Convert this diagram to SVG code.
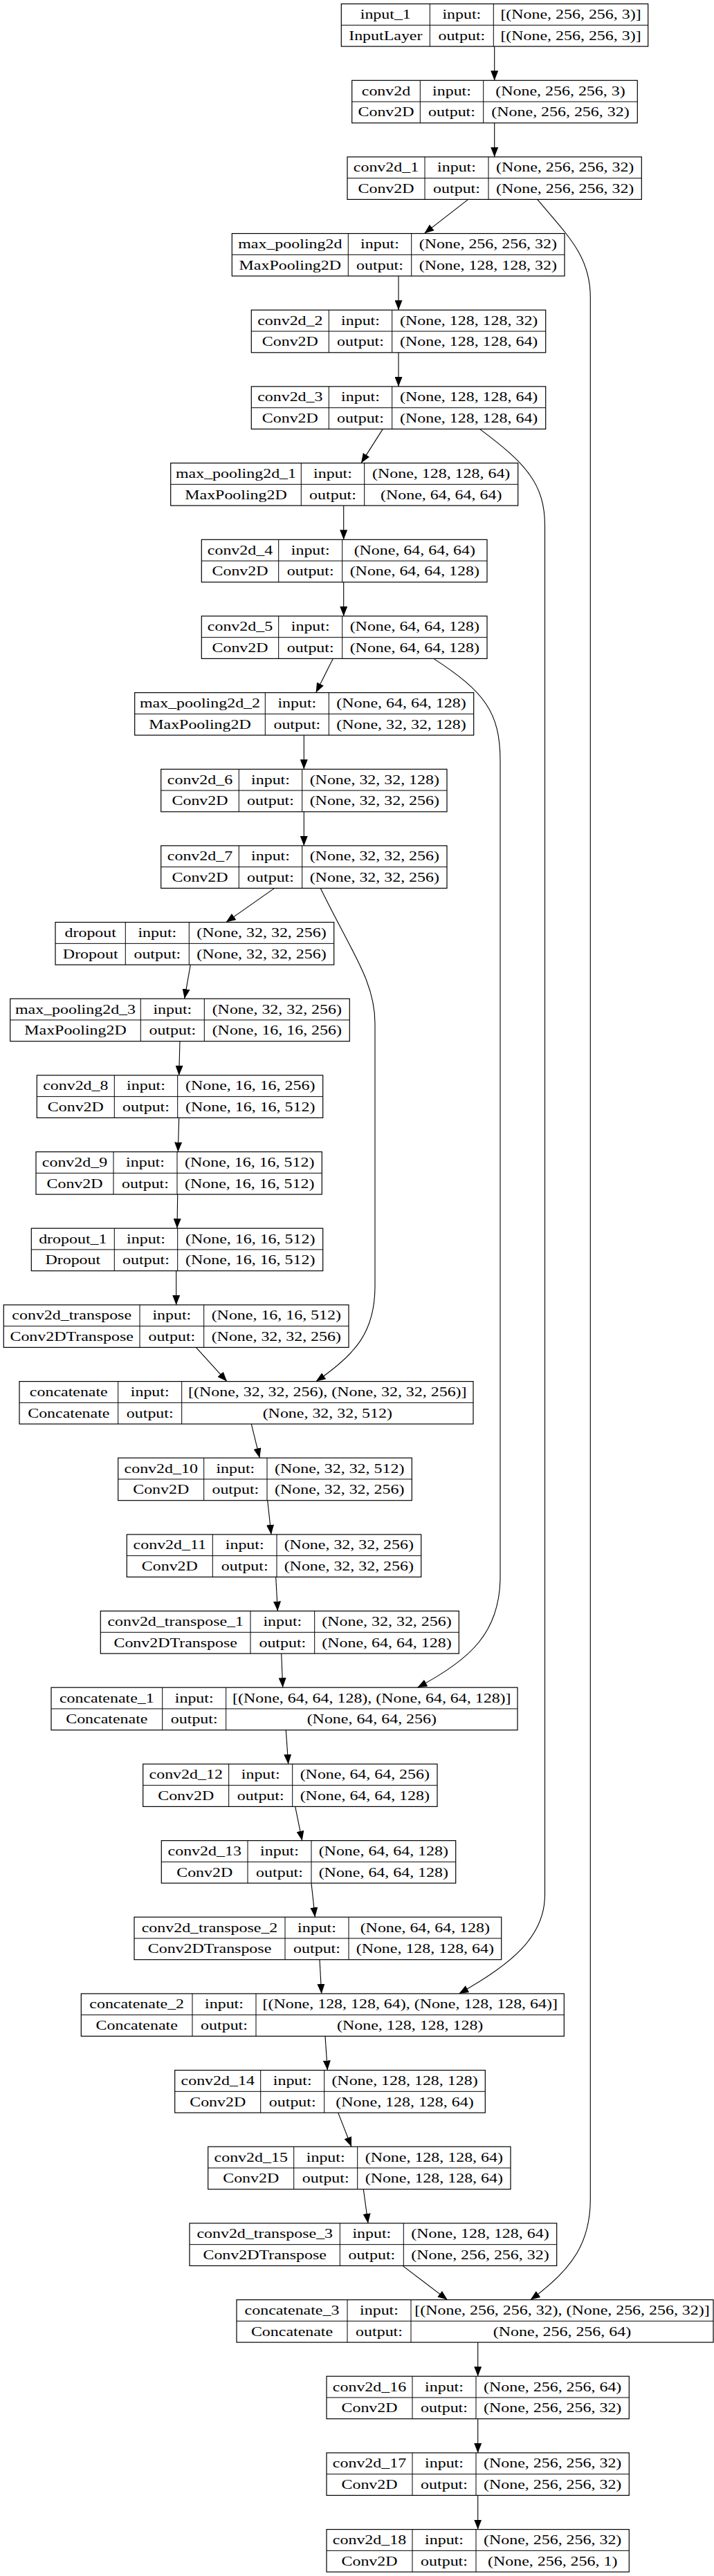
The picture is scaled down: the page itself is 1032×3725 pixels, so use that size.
<svg xmlns="http://www.w3.org/2000/svg" width="1032" height="3725" viewBox="0 0 1032 3725">
<style>
.bg{fill:#fff}
.box{fill:#fff;stroke:#000;stroke-width:1.2}
.grid{fill:none;stroke:#000;stroke-width:1}
.t{font-family:"Liberation Serif","Times New Roman",serif;font-size:18px;text-anchor:middle;fill:#000}
.e{fill:none;stroke:#000;stroke-width:1.1;marker-end:url(#ah)}
</style>
<defs>
<marker id="ah" markerUnits="userSpaceOnUse" markerWidth="14" markerHeight="11" refX="14" refY="5.5" orient="auto"><path d="M0,0 L14,5.5 L0,11 z" fill="#000"/></marker>
</defs>
<rect class="bg" x="0" y="0" width="1032" height="3725"/>

<g id="edges">
<path class="e" d="M714.7,67.1 L714.7,116.3"/>
<path class="e" d="M714.7,177.8 L714.7,226.9"/>
<path class="e" d="M676.7,288.4 L613.3,337.6"/>
<path class="e" d="M776.7,288.4 C820,340 853.3,370 853.3,430 L853.3,3180 C853.3,3240 830,3280 766.7,3325.6"/>
<path class="e" d="M576,399.1 L576,448.3"/>
<path class="e" d="M576,509.8 L576,558.9"/>
<path class="e" d="M553.3,620.4 L522,669.6"/>
<path class="e" d="M693.3,620.4 C760,670 787.5,700 787.5,760 L787.5,2740 C787.5,2800 740,2840 663.3,2882.9"/>
<path class="e" d="M496.7,731.1 L496.7,780.3"/>
<path class="e" d="M496.7,841.8 L496.7,890.9"/>
<path class="e" d="M481.3,952.4 L456.7,1001.6"/>
<path class="e" d="M626.7,952.4 C700,1000 723,1030 723,1100 L723,2280 C723,2360 680,2400 603.3,2440.2"/>
<path class="e" d="M439.3,1063.1 L439.3,1112.3"/>
<path class="e" d="M439.3,1173.8 L439.3,1222.9"/>
<path class="e" d="M396.7,1284.4 L326.7,1333.6"/>
<path class="e" d="M463.3,1284.4 C510,1380 542,1420 542,1480 L542,1860 C542,1925 515,1958 456.7,1997.6"/>
<path class="e" d="M275.3,1395.1 L266.7,1444.2"/>
<path class="e" d="M260,1505.7 L258.7,1554.9"/>
<path class="e" d="M258.7,1616.4 L257.3,1665.6"/>
<path class="e" d="M256.7,1727.1 L256,1776.2"/>
<path class="e" d="M254.7,1837.7 L254.7,1886.9"/>
<path class="e" d="M283.3,1948.4 L328,1997.6"/>
<path class="e" d="M363.3,2059.1 L375.3,2108.2"/>
<path class="e" d="M386.7,2169.7 L392,2218.9"/>
<path class="e" d="M398.7,2280.4 L401.3,2329.6"/>
<path class="e" d="M406.7,2391.1 L408.7,2440.2"/>
<path class="e" d="M413.3,2501.7 L416.7,2550.9"/>
<path class="e" d="M426.7,2612.4 L436.7,2661.6"/>
<path class="e" d="M450,2723.1 L455.3,2772.2"/>
<path class="e" d="M462,2833.7 L464.7,2882.9"/>
<path class="e" d="M470,2944.4 L473.3,2993.6"/>
<path class="e" d="M488.7,3055.1 L508,3104.2"/>
<path class="e" d="M525.3,3165.7 L532,3214.9"/>
<path class="e" d="M582,3276.4 L646.7,3325.6"/>
<path class="e" d="M690.7,3387.1 L690.7,3436.2"/>
<path class="e" d="M690.7,3497.7 L690.7,3546.9"/>
<path class="e" d="M690.7,3608.4 L690.7,3657.6"/>
</g>

<g id="input_1">
<rect class="box" x="493.3" y="5.6" width="443.4" height="61.5"/>
<path class="grid" d="M493.3,36.35 H936.7 M621.3,5.6 V67.1 M713.3,5.6 V67.1"/>
<text class="t" transform="translate(557.3,27) scale(1.33,1)">input_1</text>
<text class="t" transform="translate(667.3,27) scale(1.33,1)">input:</text>
<text class="t" transform="translate(825,27) scale(1.33,1)">[(None, 256, 256, 3)]</text>
<text class="t" transform="translate(557.3,57.7) scale(1.33,1)">InputLayer</text>
<text class="t" transform="translate(667.3,57.7) scale(1.33,1)">output:</text>
<text class="t" transform="translate(825,57.7) scale(1.33,1)">[(None, 256, 256, 3)]</text>
</g>

<g id="conv2d">
<rect class="box" x="508.7" y="116.3" width="412.6" height="61.5"/>
<path class="grid" d="M508.7,147.05 H921.3 M607.3,116.3 V177.8 M698.7,116.3 V177.8"/>
<text class="t" transform="translate(558,137.7) scale(1.33,1)">conv2d</text>
<text class="t" transform="translate(653,137.7) scale(1.33,1)">input:</text>
<text class="t" transform="translate(810,137.7) scale(1.33,1)">(None, 256, 256, 3)</text>
<text class="t" transform="translate(558,168.4) scale(1.33,1)">Conv2D</text>
<text class="t" transform="translate(653,168.4) scale(1.33,1)">output:</text>
<text class="t" transform="translate(810,168.4) scale(1.33,1)">(None, 256, 256, 32)</text>
</g>

<g id="conv2d_1">
<rect class="box" x="502" y="226.9" width="425.3" height="61.5"/>
<path class="grid" d="M502,257.65 H927.3 M614,226.9 V288.4 M706,226.9 V288.4"/>
<text class="t" transform="translate(558,248.3) scale(1.33,1)">conv2d_1</text>
<text class="t" transform="translate(660,248.3) scale(1.33,1)">input:</text>
<text class="t" transform="translate(816.7,248.3) scale(1.33,1)">(None, 256, 256, 32)</text>
<text class="t" transform="translate(558,279) scale(1.33,1)">Conv2D</text>
<text class="t" transform="translate(660,279) scale(1.33,1)">output:</text>
<text class="t" transform="translate(816.7,279) scale(1.33,1)">(None, 256, 256, 32)</text>
</g>

<g id="max_pooling2d">
<rect class="box" x="335.3" y="337.6" width="480.7" height="61.5"/>
<path class="grid" d="M335.3,368.35 H816 M503.3,337.6 V399.1 M594.7,337.6 V399.1"/>
<text class="t" transform="translate(419.3,359) scale(1.33,1)">max_pooling2d</text>
<text class="t" transform="translate(549,359) scale(1.33,1)">input:</text>
<text class="t" transform="translate(705.3,359) scale(1.33,1)">(None, 256, 256, 32)</text>
<text class="t" transform="translate(419.3,389.7) scale(1.33,1)">MaxPooling2D</text>
<text class="t" transform="translate(549,389.7) scale(1.33,1)">output:</text>
<text class="t" transform="translate(705.3,389.7) scale(1.33,1)">(None, 128, 128, 32)</text>
</g>

<g id="conv2d_2">
<rect class="box" x="363.3" y="448.3" width="425.4" height="61.5"/>
<path class="grid" d="M363.3,479.05 H788.7 M475.3,448.3 V509.8 M566.7,448.3 V509.8"/>
<text class="t" transform="translate(419.3,469.7) scale(1.33,1)">conv2d_2</text>
<text class="t" transform="translate(521,469.7) scale(1.33,1)">input:</text>
<text class="t" transform="translate(677.7,469.7) scale(1.33,1)">(None, 128, 128, 32)</text>
<text class="t" transform="translate(419.3,500.4) scale(1.33,1)">Conv2D</text>
<text class="t" transform="translate(521,500.4) scale(1.33,1)">output:</text>
<text class="t" transform="translate(677.7,500.4) scale(1.33,1)">(None, 128, 128, 64)</text>
</g>

<g id="conv2d_3">
<rect class="box" x="363.3" y="558.9" width="425.4" height="61.5"/>
<path class="grid" d="M363.3,589.65 H788.7 M475.3,558.9 V620.4 M566.7,558.9 V620.4"/>
<text class="t" transform="translate(419.3,580.3) scale(1.33,1)">conv2d_3</text>
<text class="t" transform="translate(521,580.3) scale(1.33,1)">input:</text>
<text class="t" transform="translate(677.7,580.3) scale(1.33,1)">(None, 128, 128, 64)</text>
<text class="t" transform="translate(419.3,611) scale(1.33,1)">Conv2D</text>
<text class="t" transform="translate(521,611) scale(1.33,1)">output:</text>
<text class="t" transform="translate(677.7,611) scale(1.33,1)">(None, 128, 128, 64)</text>
</g>

<g id="max_pooling2d_1">
<rect class="box" x="246.7" y="669.6" width="502" height="61.5"/>
<path class="grid" d="M246.7,700.35 H748.7 M435.3,669.6 V731.1 M526.7,669.6 V731.1"/>
<text class="t" transform="translate(341,691) scale(1.33,1)">max_pooling2d_1</text>
<text class="t" transform="translate(481,691) scale(1.33,1)">input:</text>
<text class="t" transform="translate(637.7,691) scale(1.33,1)">(None, 128, 128, 64)</text>
<text class="t" transform="translate(341,721.7) scale(1.33,1)">MaxPooling2D</text>
<text class="t" transform="translate(481,721.7) scale(1.33,1)">output:</text>
<text class="t" transform="translate(637.7,721.7) scale(1.33,1)">(None, 64, 64, 64)</text>
</g>

<g id="conv2d_4">
<rect class="box" x="291.3" y="780.3" width="412.7" height="61.5"/>
<path class="grid" d="M291.3,811.05 H704 M402.7,780.3 V841.8 M494.7,780.3 V841.8"/>
<text class="t" transform="translate(347,801.7) scale(1.33,1)">conv2d_4</text>
<text class="t" transform="translate(448.7,801.7) scale(1.33,1)">input:</text>
<text class="t" transform="translate(599.3,801.7) scale(1.33,1)">(None, 64, 64, 64)</text>
<text class="t" transform="translate(347,832.4) scale(1.33,1)">Conv2D</text>
<text class="t" transform="translate(448.7,832.4) scale(1.33,1)">output:</text>
<text class="t" transform="translate(599.3,832.4) scale(1.33,1)">(None, 64, 64, 128)</text>
</g>

<g id="conv2d_5">
<rect class="box" x="291.3" y="890.9" width="412.7" height="61.5"/>
<path class="grid" d="M291.3,921.65 H704 M402.7,890.9 V952.4 M494.7,890.9 V952.4"/>
<text class="t" transform="translate(347,912.3) scale(1.33,1)">conv2d_5</text>
<text class="t" transform="translate(448.7,912.3) scale(1.33,1)">input:</text>
<text class="t" transform="translate(599.3,912.3) scale(1.33,1)">(None, 64, 64, 128)</text>
<text class="t" transform="translate(347,943) scale(1.33,1)">Conv2D</text>
<text class="t" transform="translate(448.7,943) scale(1.33,1)">output:</text>
<text class="t" transform="translate(599.3,943) scale(1.33,1)">(None, 64, 64, 128)</text>
</g>

<g id="max_pooling2d_2">
<rect class="box" x="194.7" y="1001.6" width="490" height="61.5"/>
<path class="grid" d="M194.7,1032.35 H684.7 M383.3,1001.6 V1063.1 M475.3,1001.6 V1063.1"/>
<text class="t" transform="translate(289,1023) scale(1.33,1)">max_pooling2d_2</text>
<text class="t" transform="translate(429.3,1023) scale(1.33,1)">input:</text>
<text class="t" transform="translate(580,1023) scale(1.33,1)">(None, 64, 64, 128)</text>
<text class="t" transform="translate(289,1053.7) scale(1.33,1)">MaxPooling2D</text>
<text class="t" transform="translate(429.3,1053.7) scale(1.33,1)">output:</text>
<text class="t" transform="translate(580,1053.7) scale(1.33,1)">(None, 32, 32, 128)</text>
</g>

<g id="conv2d_6">
<rect class="box" x="232.7" y="1112.3" width="413.3" height="61.5"/>
<path class="grid" d="M232.7,1143.05 H646 M345.3,1112.3 V1173.8 M436.7,1112.3 V1173.8"/>
<text class="t" transform="translate(289,1133.7) scale(1.33,1)">conv2d_6</text>
<text class="t" transform="translate(391,1133.7) scale(1.33,1)">input:</text>
<text class="t" transform="translate(541.3,1133.7) scale(1.33,1)">(None, 32, 32, 128)</text>
<text class="t" transform="translate(289,1164.4) scale(1.33,1)">Conv2D</text>
<text class="t" transform="translate(391,1164.4) scale(1.33,1)">output:</text>
<text class="t" transform="translate(541.3,1164.4) scale(1.33,1)">(None, 32, 32, 256)</text>
</g>

<g id="conv2d_7">
<rect class="box" x="232.7" y="1222.9" width="413.3" height="61.5"/>
<path class="grid" d="M232.7,1253.65 H646 M345.3,1222.9 V1284.4 M436.7,1222.9 V1284.4"/>
<text class="t" transform="translate(289,1244.3) scale(1.33,1)">conv2d_7</text>
<text class="t" transform="translate(391,1244.3) scale(1.33,1)">input:</text>
<text class="t" transform="translate(541.3,1244.3) scale(1.33,1)">(None, 32, 32, 256)</text>
<text class="t" transform="translate(289,1275) scale(1.33,1)">Conv2D</text>
<text class="t" transform="translate(391,1275) scale(1.33,1)">output:</text>
<text class="t" transform="translate(541.3,1275) scale(1.33,1)">(None, 32, 32, 256)</text>
</g>

<g id="dropout">
<rect class="box" x="80" y="1333.6" width="402.7" height="61.5"/>
<path class="grid" d="M80,1364.35 H482.7 M181.3,1333.6 V1395.1 M273.3,1333.6 V1395.1"/>
<text class="t" transform="translate(130.7,1355) scale(1.33,1)">dropout</text>
<text class="t" transform="translate(227.3,1355) scale(1.33,1)">input:</text>
<text class="t" transform="translate(378,1355) scale(1.33,1)">(None, 32, 32, 256)</text>
<text class="t" transform="translate(130.7,1385.7) scale(1.33,1)">Dropout</text>
<text class="t" transform="translate(227.3,1385.7) scale(1.33,1)">output:</text>
<text class="t" transform="translate(378,1385.7) scale(1.33,1)">(None, 32, 32, 256)</text>
</g>

<g id="max_pooling2d_3">
<rect class="box" x="14.7" y="1444.2" width="490.6" height="61.5"/>
<path class="grid" d="M14.7,1474.95 H505.3 M203.3,1444.2 V1505.7 M295.3,1444.2 V1505.7"/>
<text class="t" transform="translate(109,1465.6) scale(1.33,1)">max_pooling2d_3</text>
<text class="t" transform="translate(249.3,1465.6) scale(1.33,1)">input:</text>
<text class="t" transform="translate(400.3,1465.6) scale(1.33,1)">(None, 32, 32, 256)</text>
<text class="t" transform="translate(109,1496.3) scale(1.33,1)">MaxPooling2D</text>
<text class="t" transform="translate(249.3,1496.3) scale(1.33,1)">output:</text>
<text class="t" transform="translate(400.3,1496.3) scale(1.33,1)">(None, 16, 16, 256)</text>
</g>

<g id="conv2d_8">
<rect class="box" x="53.3" y="1554.9" width="413.4" height="61.5"/>
<path class="grid" d="M53.3,1585.65 H466.7 M165.3,1554.9 V1616.4 M256.7,1554.9 V1616.4"/>
<text class="t" transform="translate(109.3,1576.3) scale(1.33,1)">conv2d_8</text>
<text class="t" transform="translate(211,1576.3) scale(1.33,1)">input:</text>
<text class="t" transform="translate(361.7,1576.3) scale(1.33,1)">(None, 16, 16, 256)</text>
<text class="t" transform="translate(109.3,1607) scale(1.33,1)">Conv2D</text>
<text class="t" transform="translate(211,1607) scale(1.33,1)">output:</text>
<text class="t" transform="translate(361.7,1607) scale(1.33,1)">(None, 16, 16, 512)</text>
</g>

<g id="conv2d_9">
<rect class="box" x="52" y="1665.6" width="413.3" height="61.5"/>
<path class="grid" d="M52,1696.35 H465.3 M164,1665.6 V1727.1 M256,1665.6 V1727.1"/>
<text class="t" transform="translate(108,1687) scale(1.33,1)">conv2d_9</text>
<text class="t" transform="translate(210,1687) scale(1.33,1)">input:</text>
<text class="t" transform="translate(360.7,1687) scale(1.33,1)">(None, 16, 16, 512)</text>
<text class="t" transform="translate(108,1717.7) scale(1.33,1)">Conv2D</text>
<text class="t" transform="translate(210,1717.7) scale(1.33,1)">output:</text>
<text class="t" transform="translate(360.7,1717.7) scale(1.33,1)">(None, 16, 16, 512)</text>
</g>

<g id="dropout_1">
<rect class="box" x="45.3" y="1776.2" width="421.4" height="61.5"/>
<path class="grid" d="M45.3,1806.95 H466.7 M165.3,1776.2 V1837.7 M256.7,1776.2 V1837.7"/>
<text class="t" transform="translate(105.3,1797.6) scale(1.33,1)">dropout_1</text>
<text class="t" transform="translate(211,1797.6) scale(1.33,1)">input:</text>
<text class="t" transform="translate(361.7,1797.6) scale(1.33,1)">(None, 16, 16, 512)</text>
<text class="t" transform="translate(105.3,1828.3) scale(1.33,1)">Dropout</text>
<text class="t" transform="translate(211,1828.3) scale(1.33,1)">output:</text>
<text class="t" transform="translate(361.7,1828.3) scale(1.33,1)">(None, 16, 16, 512)</text>
</g>

<g id="conv2d_transpose">
<rect class="box" x="5.3" y="1886.9" width="498.7" height="61.5"/>
<path class="grid" d="M5.3,1917.65 H504 M202,1886.9 V1948.4 M294.7,1886.9 V1948.4"/>
<text class="t" transform="translate(103.7,1908.3) scale(1.33,1)">conv2d_transpose</text>
<text class="t" transform="translate(248.3,1908.3) scale(1.33,1)">input:</text>
<text class="t" transform="translate(399.3,1908.3) scale(1.33,1)">(None, 16, 16, 512)</text>
<text class="t" transform="translate(103.7,1939) scale(1.33,1)">Conv2DTranspose</text>
<text class="t" transform="translate(248.3,1939) scale(1.33,1)">output:</text>
<text class="t" transform="translate(399.3,1939) scale(1.33,1)">(None, 32, 32, 256)</text>
</g>

<g id="concatenate">
<rect class="box" x="28" y="1997.6" width="656" height="61.5"/>
<path class="grid" d="M28,2028.35 H684 M170.7,1997.6 V2059.1 M262.7,1997.6 V2059.1"/>
<text class="t" transform="translate(99.3,2019) scale(1.33,1)">concatenate</text>
<text class="t" transform="translate(216.7,2019) scale(1.33,1)">input:</text>
<text class="t" transform="translate(473.3,2019) scale(1.33,1)">[(None, 32, 32, 256), (None, 32, 32, 256)]</text>
<text class="t" transform="translate(99.3,2049.7) scale(1.33,1)">Concatenate</text>
<text class="t" transform="translate(216.7,2049.7) scale(1.33,1)">output:</text>
<text class="t" transform="translate(473.3,2049.7) scale(1.33,1)">(None, 32, 32, 512)</text>
</g>

<g id="conv2d_10">
<rect class="box" x="170.7" y="2108.2" width="424.6" height="61.5"/>
<path class="grid" d="M170.7,2138.95 H595.3 M294.7,2108.2 V2169.7 M386,2108.2 V2169.7"/>
<text class="t" transform="translate(232.7,2129.6) scale(1.33,1)">conv2d_10</text>
<text class="t" transform="translate(340.3,2129.6) scale(1.33,1)">input:</text>
<text class="t" transform="translate(490.7,2129.6) scale(1.33,1)">(None, 32, 32, 512)</text>
<text class="t" transform="translate(232.7,2160.3) scale(1.33,1)">Conv2D</text>
<text class="t" transform="translate(340.3,2160.3) scale(1.33,1)">output:</text>
<text class="t" transform="translate(490.7,2160.3) scale(1.33,1)">(None, 32, 32, 256)</text>
</g>

<g id="conv2d_11">
<rect class="box" x="183.3" y="2218.9" width="425.4" height="61.5"/>
<path class="grid" d="M183.3,2249.65 H608.7 M307.3,2218.9 V2280.4 M400,2218.9 V2280.4"/>
<text class="t" transform="translate(245.3,2240.3) scale(1.33,1)">conv2d_11</text>
<text class="t" transform="translate(353.7,2240.3) scale(1.33,1)">input:</text>
<text class="t" transform="translate(504.3,2240.3) scale(1.33,1)">(None, 32, 32, 256)</text>
<text class="t" transform="translate(245.3,2271) scale(1.33,1)">Conv2D</text>
<text class="t" transform="translate(353.7,2271) scale(1.33,1)">output:</text>
<text class="t" transform="translate(504.3,2271) scale(1.33,1)">(None, 32, 32, 256)</text>
</g>

<g id="conv2d_transpose_1">
<rect class="box" x="145.3" y="2329.6" width="518" height="61.5"/>
<path class="grid" d="M145.3,2360.35 H663.3 M362,2329.6 V2391.1 M454.7,2329.6 V2391.1"/>
<text class="t" transform="translate(253.7,2351) scale(1.33,1)">conv2d_transpose_1</text>
<text class="t" transform="translate(408.3,2351) scale(1.33,1)">input:</text>
<text class="t" transform="translate(559,2351) scale(1.33,1)">(None, 32, 32, 256)</text>
<text class="t" transform="translate(253.7,2381.7) scale(1.33,1)">Conv2DTranspose</text>
<text class="t" transform="translate(408.3,2381.7) scale(1.33,1)">output:</text>
<text class="t" transform="translate(559,2381.7) scale(1.33,1)">(None, 64, 64, 128)</text>
</g>

<g id="concatenate_1">
<rect class="box" x="74" y="2440.2" width="674" height="61.5"/>
<path class="grid" d="M74,2470.95 H748 M234.7,2440.2 V2501.7 M326.7,2440.2 V2501.7"/>
<text class="t" transform="translate(154.3,2461.6) scale(1.33,1)">concatenate_1</text>
<text class="t" transform="translate(280.7,2461.6) scale(1.33,1)">input:</text>
<text class="t" transform="translate(537.3,2461.6) scale(1.33,1)">[(None, 64, 64, 128), (None, 64, 64, 128)]</text>
<text class="t" transform="translate(154.3,2492.3) scale(1.33,1)">Concatenate</text>
<text class="t" transform="translate(280.7,2492.3) scale(1.33,1)">output:</text>
<text class="t" transform="translate(537.3,2492.3) scale(1.33,1)">(None, 64, 64, 256)</text>
</g>

<g id="conv2d_12">
<rect class="box" x="206.7" y="2550.9" width="425.3" height="61.5"/>
<path class="grid" d="M206.7,2581.65 H632 M330.7,2550.9 V2612.4 M422.7,2550.9 V2612.4"/>
<text class="t" transform="translate(268.7,2572.3) scale(1.33,1)">conv2d_12</text>
<text class="t" transform="translate(376.7,2572.3) scale(1.33,1)">input:</text>
<text class="t" transform="translate(527.3,2572.3) scale(1.33,1)">(None, 64, 64, 256)</text>
<text class="t" transform="translate(268.7,2603) scale(1.33,1)">Conv2D</text>
<text class="t" transform="translate(376.7,2603) scale(1.33,1)">output:</text>
<text class="t" transform="translate(527.3,2603) scale(1.33,1)">(None, 64, 64, 128)</text>
</g>

<g id="conv2d_13">
<rect class="box" x="233.3" y="2661.6" width="425.4" height="61.5"/>
<path class="grid" d="M233.3,2692.35 H658.7 M358,2661.6 V2723.1 M450,2661.6 V2723.1"/>
<text class="t" transform="translate(295.7,2683) scale(1.33,1)">conv2d_13</text>
<text class="t" transform="translate(404,2683) scale(1.33,1)">input:</text>
<text class="t" transform="translate(554.3,2683) scale(1.33,1)">(None, 64, 64, 128)</text>
<text class="t" transform="translate(295.7,2713.7) scale(1.33,1)">Conv2D</text>
<text class="t" transform="translate(404,2713.7) scale(1.33,1)">output:</text>
<text class="t" transform="translate(554.3,2713.7) scale(1.33,1)">(None, 64, 64, 128)</text>
</g>

<g id="conv2d_transpose_2">
<rect class="box" x="194" y="2772.2" width="530.7" height="61.5"/>
<path class="grid" d="M194,2802.95 H724.7 M412,2772.2 V2833.7 M504,2772.2 V2833.7"/>
<text class="t" transform="translate(303,2793.6) scale(1.33,1)">conv2d_transpose_2</text>
<text class="t" transform="translate(458,2793.6) scale(1.33,1)">input:</text>
<text class="t" transform="translate(614.3,2793.6) scale(1.33,1)">(None, 64, 64, 128)</text>
<text class="t" transform="translate(303,2824.3) scale(1.33,1)">Conv2DTranspose</text>
<text class="t" transform="translate(458,2824.3) scale(1.33,1)">output:</text>
<text class="t" transform="translate(614.3,2824.3) scale(1.33,1)">(None, 128, 128, 64)</text>
</g>

<g id="concatenate_2">
<rect class="box" x="117.3" y="2882.9" width="698" height="61.5"/>
<path class="grid" d="M117.3,2913.65 H815.3 M278,2882.9 V2944.4 M370,2882.9 V2944.4"/>
<text class="t" transform="translate(197.7,2904.3) scale(1.33,1)">concatenate_2</text>
<text class="t" transform="translate(324,2904.3) scale(1.33,1)">input:</text>
<text class="t" transform="translate(592.7,2904.3) scale(1.33,1)">[(None, 128, 128, 64), (None, 128, 128, 64)]</text>
<text class="t" transform="translate(197.7,2935) scale(1.33,1)">Concatenate</text>
<text class="t" transform="translate(324,2935) scale(1.33,1)">output:</text>
<text class="t" transform="translate(592.7,2935) scale(1.33,1)">(None, 128, 128, 128)</text>
</g>

<g id="conv2d_14">
<rect class="box" x="252.7" y="2993.6" width="448.6" height="61.5"/>
<path class="grid" d="M252.7,3024.35 H701.3 M376.7,2993.6 V3055.1 M468.7,2993.6 V3055.1"/>
<text class="t" transform="translate(314.7,3015) scale(1.33,1)">conv2d_14</text>
<text class="t" transform="translate(422.7,3015) scale(1.33,1)">input:</text>
<text class="t" transform="translate(585,3015) scale(1.33,1)">(None, 128, 128, 128)</text>
<text class="t" transform="translate(314.7,3045.7) scale(1.33,1)">Conv2D</text>
<text class="t" transform="translate(422.7,3045.7) scale(1.33,1)">output:</text>
<text class="t" transform="translate(585,3045.7) scale(1.33,1)">(None, 128, 128, 64)</text>
</g>

<g id="conv2d_15">
<rect class="box" x="300.7" y="3104.2" width="437.3" height="61.5"/>
<path class="grid" d="M300.7,3134.95 H738 M424.7,3104.2 V3165.7 M516.7,3104.2 V3165.7"/>
<text class="t" transform="translate(362.7,3125.6) scale(1.33,1)">conv2d_15</text>
<text class="t" transform="translate(470.7,3125.6) scale(1.33,1)">input:</text>
<text class="t" transform="translate(627.3,3125.6) scale(1.33,1)">(None, 128, 128, 64)</text>
<text class="t" transform="translate(362.7,3156.3) scale(1.33,1)">Conv2D</text>
<text class="t" transform="translate(470.7,3156.3) scale(1.33,1)">output:</text>
<text class="t" transform="translate(627.3,3156.3) scale(1.33,1)">(None, 128, 128, 64)</text>
</g>

<g id="conv2d_transpose_3">
<rect class="box" x="274" y="3214.9" width="530.7" height="61.5"/>
<path class="grid" d="M274,3245.65 H804.7 M491.3,3214.9 V3276.4 M583.3,3214.9 V3276.4"/>
<text class="t" transform="translate(382.7,3236.3) scale(1.33,1)">conv2d_transpose_3</text>
<text class="t" transform="translate(537.3,3236.3) scale(1.33,1)">input:</text>
<text class="t" transform="translate(694,3236.3) scale(1.33,1)">(None, 128, 128, 64)</text>
<text class="t" transform="translate(382.7,3267) scale(1.33,1)">Conv2DTranspose</text>
<text class="t" transform="translate(537.3,3267) scale(1.33,1)">output:</text>
<text class="t" transform="translate(694,3267) scale(1.33,1)">(None, 256, 256, 32)</text>
</g>

<g id="concatenate_3">
<rect class="box" x="342" y="3325.6" width="689" height="61.5"/>
<path class="grid" d="M342,3356.35 H1031 M502,3325.6 V3387.1 M594,3325.6 V3387.1"/>
<text class="t" transform="translate(422,3347) scale(1.33,1)">concatenate_3</text>
<text class="t" transform="translate(548,3347) scale(1.33,1)">input:</text>
<text class="t" transform="translate(812.5,3347) scale(1.33,1)">[(None, 256, 256, 32), (None, 256, 256, 32)]</text>
<text class="t" transform="translate(422,3377.7) scale(1.33,1)">Concatenate</text>
<text class="t" transform="translate(548,3377.7) scale(1.33,1)">output:</text>
<text class="t" transform="translate(812.5,3377.7) scale(1.33,1)">(None, 256, 256, 64)</text>
</g>

<g id="conv2d_16">
<rect class="box" x="472" y="3436.2" width="437.3" height="61.5"/>
<path class="grid" d="M472,3466.95 H909.3 M596,3436.2 V3497.7 M688,3436.2 V3497.7"/>
<text class="t" transform="translate(534,3457.6) scale(1.33,1)">conv2d_16</text>
<text class="t" transform="translate(642,3457.6) scale(1.33,1)">input:</text>
<text class="t" transform="translate(798.7,3457.6) scale(1.33,1)">(None, 256, 256, 64)</text>
<text class="t" transform="translate(534,3488.3) scale(1.33,1)">Conv2D</text>
<text class="t" transform="translate(642,3488.3) scale(1.33,1)">output:</text>
<text class="t" transform="translate(798.7,3488.3) scale(1.33,1)">(None, 256, 256, 32)</text>
</g>

<g id="conv2d_17">
<rect class="box" x="472" y="3546.9" width="437.3" height="61.5"/>
<path class="grid" d="M472,3577.65 H909.3 M596,3546.9 V3608.4 M688,3546.9 V3608.4"/>
<text class="t" transform="translate(534,3568.3) scale(1.33,1)">conv2d_17</text>
<text class="t" transform="translate(642,3568.3) scale(1.33,1)">input:</text>
<text class="t" transform="translate(798.7,3568.3) scale(1.33,1)">(None, 256, 256, 32)</text>
<text class="t" transform="translate(534,3599) scale(1.33,1)">Conv2D</text>
<text class="t" transform="translate(642,3599) scale(1.33,1)">output:</text>
<text class="t" transform="translate(798.7,3599) scale(1.33,1)">(None, 256, 256, 32)</text>
</g>

<g id="conv2d_18">
<rect class="box" x="472" y="3657.6" width="437.3" height="61.5"/>
<path class="grid" d="M472,3688.35 H909.3 M596,3657.6 V3719.1 M688,3657.6 V3719.1"/>
<text class="t" transform="translate(534,3679) scale(1.33,1)">conv2d_18</text>
<text class="t" transform="translate(642,3679) scale(1.33,1)">input:</text>
<text class="t" transform="translate(798.7,3679) scale(1.33,1)">(None, 256, 256, 32)</text>
<text class="t" transform="translate(534,3709.7) scale(1.33,1)">Conv2D</text>
<text class="t" transform="translate(642,3709.7) scale(1.33,1)">output:</text>
<text class="t" transform="translate(798.7,3709.7) scale(1.33,1)">(None, 256, 256, 1)</text>
</g>
</svg>
